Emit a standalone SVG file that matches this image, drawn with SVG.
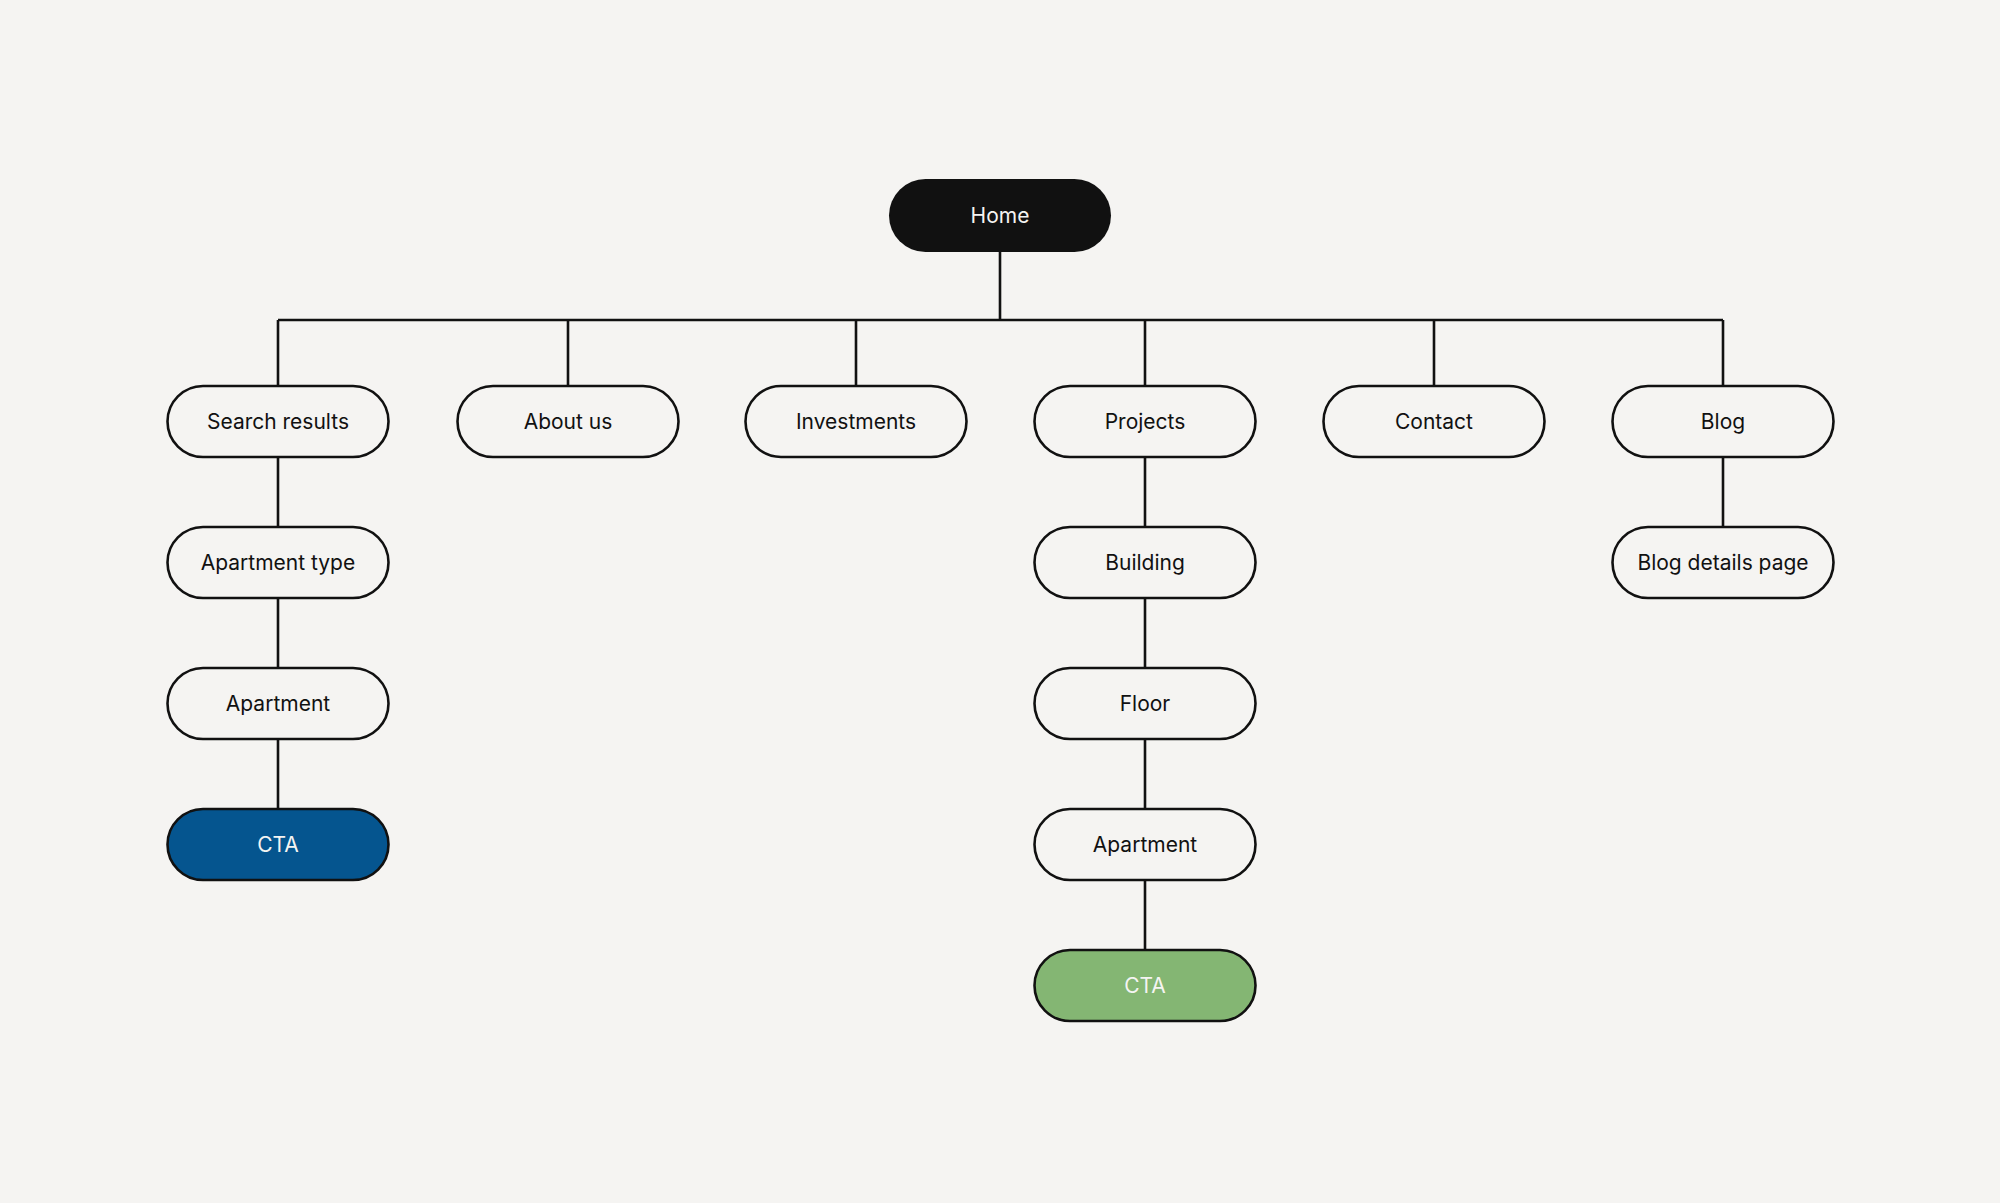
<svg xmlns="http://www.w3.org/2000/svg" width="2000" height="1203" viewBox="0 0 2000 1203">
<style>
.n{fill:#f5f4f2;stroke:#111;stroke-width:2.6}
.t{font-family:Inter,"Liberation Sans",sans-serif;font-size:21px;fill:#111;text-anchor:middle;dominant-baseline:central}
.w{fill:#f5f4f2}
.c{fill:none;stroke:#111;stroke-width:2.6}
</style>
<rect width="2000" height="1203" fill="#f5f4f2"/>
<g id="connectors" class="c">
<path d="M1000 252V320M278 320H1723M278 320V386M568 320V386M856 320V386M1145 320V386M1434 320V386M1723 320V386"/>
<path d="M278 457V527M278 598V668M278 739V809"/>
<path d="M1145 457V527M1145 598V668M1145 739V809M1145 880V950"/>
<path d="M1723 457V527"/>
</g>
<g id="home"><rect x="889" y="179" width="222" height="73" rx="36.5" fill="#111"/><text class="t w" x="1000" y="215.5">Home</text></g>
<g id="search"><rect class="n" x="167.5" y="386" width="221" height="71" rx="35.5"/><text class="t" x="278" y="421.5">Search results</text></g>
<g id="about"><rect class="n" x="457.5" y="386" width="221" height="71" rx="35.5"/><text class="t" x="568" y="421.5">About us</text></g>
<g id="invest"><rect class="n" x="745.5" y="386" width="221" height="71" rx="35.5"/><text class="t" x="856" y="421.5">Investments</text></g>
<g id="projects"><rect class="n" x="1034.5" y="386" width="221" height="71" rx="35.5"/><text class="t" x="1145" y="421.5">Projects</text></g>
<g id="contact"><rect class="n" x="1323.5" y="386" width="221" height="71" rx="35.5"/><text class="t" x="1434" y="421.5">Contact</text></g>
<g id="blog"><rect class="n" x="1612.5" y="386" width="221" height="71" rx="35.5"/><text class="t" x="1723" y="421.5">Blog</text></g>
<g id="apttype"><rect class="n" x="167.5" y="527" width="221" height="71" rx="35.5"/><text class="t" x="278" y="562.5">Apartment type</text></g>
<g id="apt1"><rect class="n" x="167.5" y="668" width="221" height="71" rx="35.5"/><text class="t" x="278" y="703.5">Apartment</text></g>
<g id="cta1"><rect class="n" x="167.5" y="809" width="221" height="71" rx="35.5" style="fill:#05558f"/><text class="t w" x="278" y="844.5">CTA</text></g>
<g id="building"><rect class="n" x="1034.5" y="527" width="221" height="71" rx="35.5"/><text class="t" x="1145" y="562.5">Building</text></g>
<g id="floor"><rect class="n" x="1034.5" y="668" width="221" height="71" rx="35.5"/><text class="t" x="1145" y="703.5">Floor</text></g>
<g id="apt2"><rect class="n" x="1034.5" y="809" width="221" height="71" rx="35.5"/><text class="t" x="1145" y="844.5">Apartment</text></g>
<g id="cta2"><rect class="n" x="1034.5" y="950" width="221" height="71" rx="35.5" style="fill:#84b673"/><text class="t w" x="1145" y="985.5">CTA</text></g>
<g id="blogdetails"><rect class="n" x="1612.5" y="527" width="221" height="71" rx="35.5"/><text class="t" x="1723" y="562.5">Blog details page</text></g>
</svg>
